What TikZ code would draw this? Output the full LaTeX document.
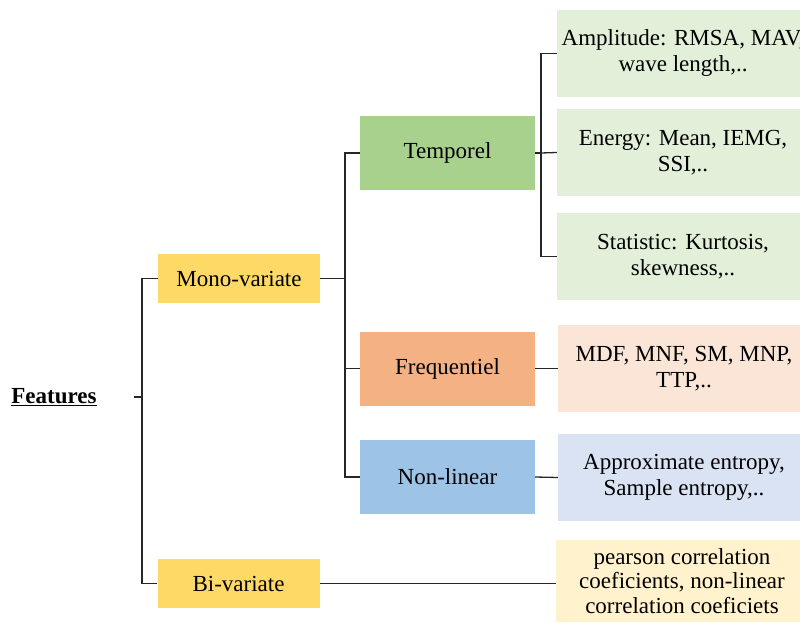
\documentclass[tikz,border=0pt]{standalone}
\usepackage{fontspec}
\setmainfont{Liberation Serif}
\definecolor{monoY}{HTML}{FFD966}
\definecolor{tempG}{HTML}{A9D18E}
\definecolor{freqO}{HTML}{F4B183}
\definecolor{nonlB}{HTML}{9DC3E6}
\definecolor{leafG}{HTML}{E2F0D9}
\definecolor{leafO}{HTML}{FBE5D6}
\definecolor{leafB}{HTML}{DAE3F3}
\definecolor{leafY}{HTML}{FFF2CC}
\tikzset{
  box/.style={inner sep=0pt, align=center, font=\fontsize{23}{26}\selectfont},
  varbox/.style={box, fill=monoY, minimum width=162, minimum height=49},
  kindbox/.style={box, minimum width=175, minimum height=74},
  leafbox/.style={box, minimum width=252, minimum height=87},
  link/.style={line width=1.3pt, black!85}
}
\begin{document}
\begin{tikzpicture}[x=1pt, y=-1pt]
    \useasboundingbox (0,0) rectangle (800,623);
    \clip (0,0) rectangle (800,623);

    % Root label
    \node[box] (feat) at (54,397) {\underline{\textbf{Features}}};

    % First level
    \node[varbox] (mono) at (239,278.5) {Mono-variate};
    \node[varbox] (bi) at (238.5,583.5) {Bi-variate};

    % Second level
    \node[kindbox, fill=tempG] (temp) at (447.5,153) {Temporel};
    \node[kindbox, fill=freqO] (freq) at (447.5,368.5) {Frequentiel};
    \node[kindbox, fill=nonlB] (nonlin) at (447.5,477) {Non-linear};

    % Leaves
    \node[leafbox, fill=leafG] (ampl) at (683,53.5) {Amplitude: RMSA, MAV,\\wave length,..};
    \node[leafbox, fill=leafG] (energy) at (683,152.5) {Energy: Mean, IEMG,\\SSI,..};
    \node[leafbox, fill=leafG] (stat) at (683,256.5) {Statistic: Kurtosis,\\skewness,..};
    \node[leafbox, fill=leafO] (mdf) at (684,368.5) {MDF, MNF, SM, MNP,\\TTP,..};
    \node[leafbox, fill=leafB] (entropy) at (684,477.5) {Approximate entropy,\\Sample entropy,..};
    \node[leafbox, fill=leafY, minimum height=82, font=\fontsize{23}{24.5}\selectfont] (pearson) at (682,581) {pearson correlation\\coeficients, non-linear\\correlation coeficiets};

    % Fork points
    \coordinate (trunk) at (142,397);
    \coordinate (stub) at (134,397);
    \coordinate (mfork) at (345,278.5);
    \coordinate (tfork) at (541,153);

    % Draw the connectors
    \draw[link] (stub) -- (trunk);
    \draw[link] (mono.west) -| (trunk) |- (bi.west);
    \draw[link] (mono.east) -- (mfork);
    \draw[link] (temp.west) -| (mfork) |- (nonlin.west);
    \draw[link] (mfork) |- (freq.west);
    \draw[link] (temp.east) -- (tfork);
    \draw[link] (ampl.west) -| (tfork) |- (stat.west);
    \draw[link] (tfork) -- (energy.west);
    \draw[link] (freq.east) -- (mdf.west);
    \draw[link] (nonlin.east) -- (entropy.west);
    \draw[link] (bi.east) -- (bi.east -| pearson.west);
\end{tikzpicture}
\end{document}
